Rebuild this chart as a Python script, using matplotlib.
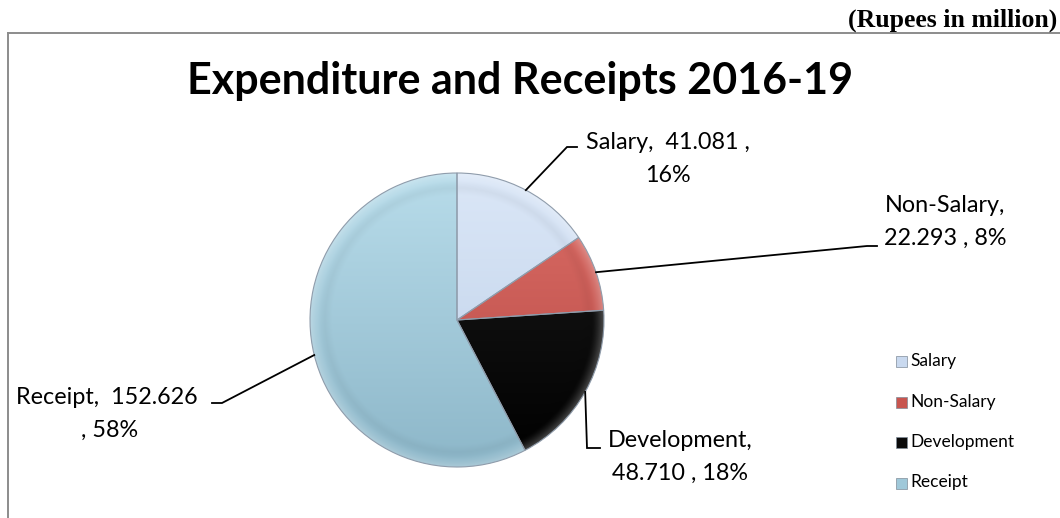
import numpy as np
import matplotlib.pyplot as plt
from matplotlib.colors import to_rgb
from matplotlib.patches import Rectangle

# Expenditure and receipts, rupees in million
categories = ["Salary", "Non-Salary", "Development", "Receipt"]
amounts = [41.081, 22.293, 48.710, 152.626]

# top / bottom shade of each slice
shades = [("#dbe7f7", "#bccfe8"),
          ("#dc6e67", "#b64844"),
          ("#1c1c1c", "#000000"),
          ("#b8dcea", "#8db7c9")]
legend_colors = ["#c9d9ef", "#c8554f", "#0a0a0a", "#9fc8d9"]

W, H = 1060, 518


def py(y):
    # pixel rows are counted from the top of the image
    return H - y


fig = plt.figure(figsize=(W / 100, H / 100), dpi=100)
ax = fig.add_axes([0, 0, 1, 1])

cx, cy, R = 457, py(320), 147
wedges, _ = ax.pie(amounts, startangle=90, counterclock=False,
                   center=(cx, cy), radius=R,
                   colors=[s[0] for s in shades],
                   wedgeprops=dict(linewidth=0.8, edgecolor="#8f9cab"))

# shaded fill for every wedge: vertical gradient plus a lighter rim
n = 400
gx, gy = np.meshgrid(np.linspace(-1, 1, n), np.linspace(1, -1, n))
rr = np.sqrt(gx ** 2 + gy ** 2)
t = (1 - gy) / 2
rim = np.clip((rr - 0.92) / 0.08, 0, 1) ** 1.5
shadow = np.clip(1 - np.abs(rr - 0.90) / 0.05, 0, 1) * 0.04
for w, (top, bot) in zip(wedges, shades):
    c0, c1 = np.array(to_rgb(top)), np.array(to_rgb(bot))
    img = c0[None, None, :] * (1 - t[..., None]) + c1[None, None, :] * t[..., None]
    img = img * (1 - shadow[..., None])
    img = img + (1 - img) * rim[..., None] * 0.25
    im = ax.imshow(np.clip(img, 0, 1), extent=[cx - R, cx + R, cy - R, cy + R],
                   aspect="auto", zorder=w.get_zorder() + 0.1, interpolation="bilinear")
    im.set_clip_path(w)
    w.set_zorder(w.get_zorder() + 0.2)
    w.set_facecolor("none")

total = sum(amounts)
pcts = [round(v / total * 100) for v in amounts]
texts = [
    f"{categories[0]},  {amounts[0]:.3f} ,\n{pcts[0]}%",
    f"{categories[1]},\n{amounts[1]:.3f} , {pcts[1]}%",
    f"{categories[2]},\n{amounts[2]:.3f} , {pcts[2]}%",
    f"{categories[3]},  {amounts[3]:.3f} \n, {pcts[3]}%",
]
label_pos = [(668, 159), (945, 222), (680, 457), (110, 414)]

# leader line points after the slice anchor
leaders = [
    [(567, 147), (577, 147)],
    [(867, 246), (877, 246)],
    [(587, 448), (600, 448)],
    [(222, 403), (212, 403)],
]

lab_font = dict(family=["Lato", "DejaVu Sans"], fontsize=16.8, color="#000000")
for w, txt, (lx, ly), pts in zip(wedges, texts, label_pos, leaders):
    mid = np.deg2rad((w.theta1 + w.theta2) / 2)
    ax_x, ax_y = cx + R * np.cos(mid), cy + R * np.sin(mid)
    xs = [ax_x] + [p[0] for p in pts]
    ys = [ax_y] + [py(p[1]) for p in pts]
    ax.plot(xs, ys, color="black", lw=1.3, zorder=5, solid_joinstyle="miter")
    ax.text(lx, py(ly), txt, ha="center", va="center", multialignment="center",
            linespacing=1.72, zorder=6, **lab_font)

# legend with small square keys
for i, (name, col) in enumerate(zip(categories, legend_colors)):
    yy = py(361 + i * 40.5)
    ax.add_patch(Rectangle((896, yy - 6), 11, 11, facecolor=col,
                           edgecolor="#7f8c99", lw=0.5, zorder=6))
    ax.text(910, yy, name, ha="left", va="center",
            family=["Lato", "DejaVu Sans"], fontsize=12.5, zorder=6)

ax.text(520, py(81), "Expenditure and Receipts 2016-19", ha="center", va="center",
        family=["Lato", "DejaVu Sans"], fontweight="bold", fontsize=31)

# chart frame (top and left edges)
ax.plot([8, W], [py(33), py(33)], color="#8c8c8c", lw=1.4, zorder=7)
ax.plot([8, 8], [py(33), 0], color="#8c8c8c", lw=1.4, zorder=7)

fig.text(1057 / W, 1 - 20 / H, "(Rupees in million)", ha="right", va="center",
         family=["Liberation Serif", "DejaVu Serif"], fontweight="bold", fontsize=18.5)

ax.set_xlim(0, W)
ax.set_ylim(0, H)
ax.axis("off")

fig.savefig("out.png", dpi=100)
